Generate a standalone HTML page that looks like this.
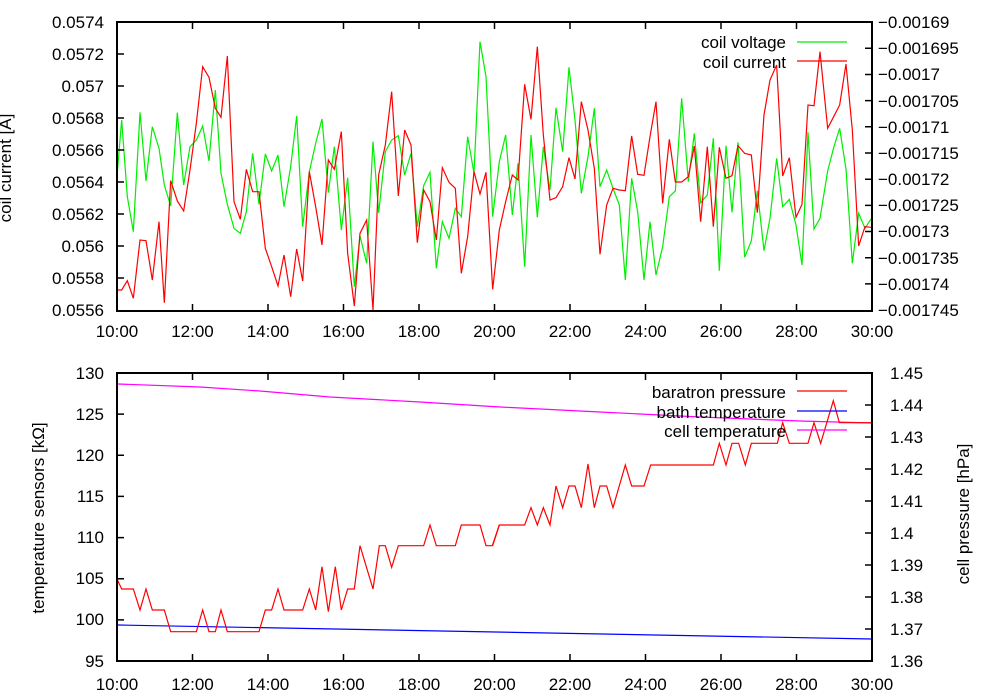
<!DOCTYPE html>
<html><head><meta charset="utf-8"><style>
html,body{margin:0;padding:0;background:#fff;}
svg{display:block;font-family:"Liberation Sans",sans-serif;font-size:17px;}
</style></head><body>
<svg width="1000" height="700" viewBox="0 0 1000 700" xmlns="http://www.w3.org/2000/svg">
<rect width="1000" height="700" fill="#fff"/>
<!-- TOP PLOT -->
<g fill="none" stroke-width="1.2">
<polyline stroke="#00ee00" vector-effect="non-scaling-stroke" transform="translate(110,20) scale(0.33333)" points="20,480 35,300 52,530 70,635 90,277 108,483 127,320 147,385 163,495 182,558 202,278 221,495 240,380 259,360 278,318 297,423 316,210 333,460 352,553 372,625 391,640 409,575 428,400 447,553 466,402 485,453 504,405 522,560 542,440 560,288 578,620 598,455 617,370 636,297 655,518 673,380 694,630 713,473 733,800 750,648 770,730 789,365 806,578 826,395 845,360 865,347 884,465 903,400 922,620 941,497 960,457 979,745 997,605 1017,655 1036,565 1054,590 1073,350 1092,460 1110,65 1128,170 1140,410 1148,590 1168,425 1187,345 1207,585 1224,430 1244,740 1263,345 1282,592 1300,380 1320,510 1338,263 1358,395 1377,142 1395,300 1414,520 1434,410 1453,265 1470,500 1490,450 1509,505 1528,555 1546,780 1565,475 1583,575 1602,780 1620,605 1638,765 1658,680 1678,530 1696,513 1715,235 1735,485 1753,340 1772,548 1792,525 1810,355 1828,752 1848,377 1866,577 1884,367 1904,712 1924,663 1942,512 1962,692 1980,595 2000,415 2018,560 2038,538 2058,615 2076,735 2094,337 2112,627 2130,595 2153,453 2171,383 2189,325 2208,447 2227,730 2246,580 2265,625 2283,597"/>
<polyline stroke="#ff0000" vector-effect="non-scaling-stroke" transform="translate(110,20) scale(0.33333)" points="20,810 35,810 52,782 70,835 90,660 108,662 127,780 147,605 163,848 182,482 202,543 221,573 240,450 259,310 278,140 297,172 316,265 333,292 352,108 372,545 391,598 409,448 428,515 447,515 466,685 485,740 504,798 522,705 542,830 560,687 578,783 598,455 617,560 636,675 655,420 673,448 694,335 713,700 733,858 750,640 770,600 789,870 806,465 826,375 845,215 865,528 884,330 903,375 922,668 941,510 960,545 979,660 997,443 1017,487 1036,505 1054,760 1073,650 1092,455 1110,522 1128,457 1148,808 1168,630 1187,545 1207,465 1224,480 1244,193 1263,298 1282,80 1300,345 1320,540 1338,533 1358,500 1377,413 1395,477 1414,245 1434,330 1453,445 1470,703 1490,555 1509,505 1528,510 1546,512 1565,348 1583,463 1602,466 1620,350 1638,245 1658,550 1678,358 1696,486 1715,486 1735,470 1753,378 1772,605 1792,380 1810,620 1828,382 1848,475 1866,467 1884,377 1904,400 1924,405 1942,578 1962,285 1980,180 2000,135 2018,468 2038,413 2058,592 2076,553 2094,255 2112,257 2130,95 2153,325 2171,290 2189,255 2208,132 2227,330 2246,678 2265,620 2283,622"/>
</g>
<rect x="117" y="22" width="755" height="289" fill="none" stroke="#000" stroke-width="2"/>
<g stroke="#000" stroke-width="1.5">
<path d="M117 54h7M117 86h7M117 118h7M117 150h7M117 182h7M117 214h7M117 246h7M117 278h7"/>
<path d="M872 48.3h-7M872 74.5h-7M872 100.6h-7M872 126.8h-7M872 153h-7M872 179.2h-7M872 205.4h-7M872 231.5h-7M872 257.7h-7M872 283.9h-7"/>
<path d="M192.5 311v-7M268 311v-7M343.5 311v-7M419 311v-7M494.5 311v-7M570 311v-7M645.5 311v-7M721 311v-7M796.5 311v-7"/>
<path d="M192.5 22v7M268 22v7M343.5 22v7M419 22v7M494.5 22v7M570 22v7M645.5 22v7M721 22v7M796.5 22v7"/>
</g>
<g text-anchor="end">
<text x="104" y="28">0.0574</text><text x="104" y="60">0.0572</text><text x="104" y="92">0.057</text><text x="104" y="124">0.0568</text><text x="104" y="156">0.0566</text><text x="104" y="188">0.0564</text><text x="104" y="220">0.0562</text><text x="104" y="252">0.056</text><text x="104" y="284">0.0558</text><text x="104" y="316">0.0556</text>
</g>
<g>
<text x="878" y="28">−0.00169</text><text x="878" y="54">−0.001695</text><text x="878" y="80">−0.0017</text><text x="878" y="107">−0.001705</text><text x="878" y="133">−0.00171</text><text x="878" y="159">−0.001715</text><text x="878" y="185">−0.00172</text><text x="878" y="211">−0.001725</text><text x="878" y="237">−0.00173</text><text x="878" y="264">−0.001735</text><text x="878" y="290">−0.00174</text><text x="878" y="316">−0.001745</text>
</g>
<g text-anchor="middle">
<text x="117" y="337">10:00</text><text x="192.5" y="337">12:00</text><text x="268" y="337">14:00</text><text x="343.5" y="337">16:00</text><text x="419" y="337">18:00</text><text x="494.5" y="337">20:00</text><text x="570" y="337">22:00</text><text x="645.5" y="337">24:00</text><text x="721" y="337">26:00</text><text x="796.5" y="337">28:00</text><text x="872" y="337">30:00</text>
</g>
<text transform="translate(11,168) rotate(-90)" text-anchor="middle">coil current [A]</text>
<text x="786" y="48" text-anchor="end">coil voltage</text>
<text x="786" y="68" text-anchor="end">coil current</text>
<path d="M797 42h50" stroke="#00ee00" stroke-width="1.2"/>
<path d="M797 61h50" stroke="#ff0000" stroke-width="1.2"/>

<!-- BOTTOM PLOT -->
<g fill="none" stroke-width="1.2">
<polyline stroke="#ff00ff" points="118,384 200,387 260,391 330,397 420,402 500,407 600,412 700,417 800,421 872,423"/>
<polyline stroke="#0000ff" points="118,625 872,639"/>
<polyline stroke="#ff0000" vector-effect="non-scaling-stroke" transform="translate(110,390) scale(0.33333)" points="20,565 35,597 70,597 90,660 108,597 127,660 163,660 182,725 259,725 278,660 297,725 316,725 333,660 352,725 447,725 466,660 485,660 504,597 522,660 578,660 598,597 617,660 636,530 655,665 676,530 694,660 713,597 733,597 750,467 789,597 808,467 826,467 845,532 865,467 941,467 960,405 979,467 1036,467 1054,405 1110,405 1128,467 1147,467 1168,405"/>
<polyline stroke="#ff0000" vector-effect="non-scaling-stroke" transform="translate(490,380) scale(0.33333)" points="8,497 28,435 104,435 123,383 142,435 160,383 180,435 198,318 218,383 237,318 255,318 274,383 294,252 313,383 330,318 350,318 369,383 406,255 425,318 462,318 482,255 670,255 688,190 708,255 726,190 746,190 766,255 784,190 862,190 878,128 898,190 954,190 972,128 992,190 1030,62 1048,128 1146,128"/>
</g>
<rect x="117" y="373" width="755" height="288" fill="none" stroke="#000" stroke-width="2"/>
<g stroke="#000" stroke-width="1.5">
<path d="M117 414.1h7M117 455.3h7M117 496.4h7M117 537.6h7M117 578.7h7M117 619.9h7"/>
<path d="M872 405h-7M872 437h-7M872 469h-7M872 501h-7M872 533h-7M872 565h-7M872 597h-7M872 629h-7"/>
<path d="M192.5 661v-7M268 661v-7M343.5 661v-7M419 661v-7M494.5 661v-7M570 661v-7M645.5 661v-7M721 661v-7M796.5 661v-7"/>
<path d="M192.5 373v7M268 373v7M343.5 373v7M419 373v7M494.5 373v7M570 373v7M645.5 373v7M721 373v7M796.5 373v7"/>
</g>
<g text-anchor="end">
<text x="104" y="379">130</text><text x="104" y="420">125</text><text x="104" y="461">120</text><text x="104" y="502">115</text><text x="104" y="543">110</text><text x="104" y="584">105</text><text x="104" y="625">100</text><text x="104" y="667">95</text>
</g>
<g>
<text x="890" y="379">1.45</text><text x="890" y="411">1.44</text><text x="890" y="443">1.43</text><text x="890" y="475">1.42</text><text x="890" y="507">1.41</text><text x="890" y="539">1.4</text><text x="890" y="571">1.39</text><text x="890" y="603">1.38</text><text x="890" y="635">1.37</text><text x="890" y="667">1.36</text>
</g>
<g text-anchor="middle">
<text x="117" y="690">10:00</text><text x="192.5" y="690">12:00</text><text x="268" y="690">14:00</text><text x="343.5" y="690">16:00</text><text x="419" y="690">18:00</text><text x="494.5" y="690">20:00</text><text x="570" y="690">22:00</text><text x="645.5" y="690">24:00</text><text x="721" y="690">26:00</text><text x="796.5" y="690">28:00</text><text x="872" y="690">30:00</text>
</g>
<text transform="translate(44,518) rotate(-90)" text-anchor="middle">temperature sensors [kΩ]</text>
<text transform="translate(969,514) rotate(-90)" text-anchor="middle">cell pressure [hPa]</text>
<text x="786" y="398" text-anchor="end">baratron pressure</text>
<text x="786" y="418" text-anchor="end">bath temperature</text>
<text x="786" y="437" text-anchor="end">cell temperature</text>
<path d="M797 391h50" stroke="#ff0000" stroke-width="1.2"/>
<path d="M797 411h50" stroke="#0000ff" stroke-width="1.2"/>
<path d="M797 430h50" stroke="#ff00ff" stroke-width="1.2"/>
</svg>
</body></html>
